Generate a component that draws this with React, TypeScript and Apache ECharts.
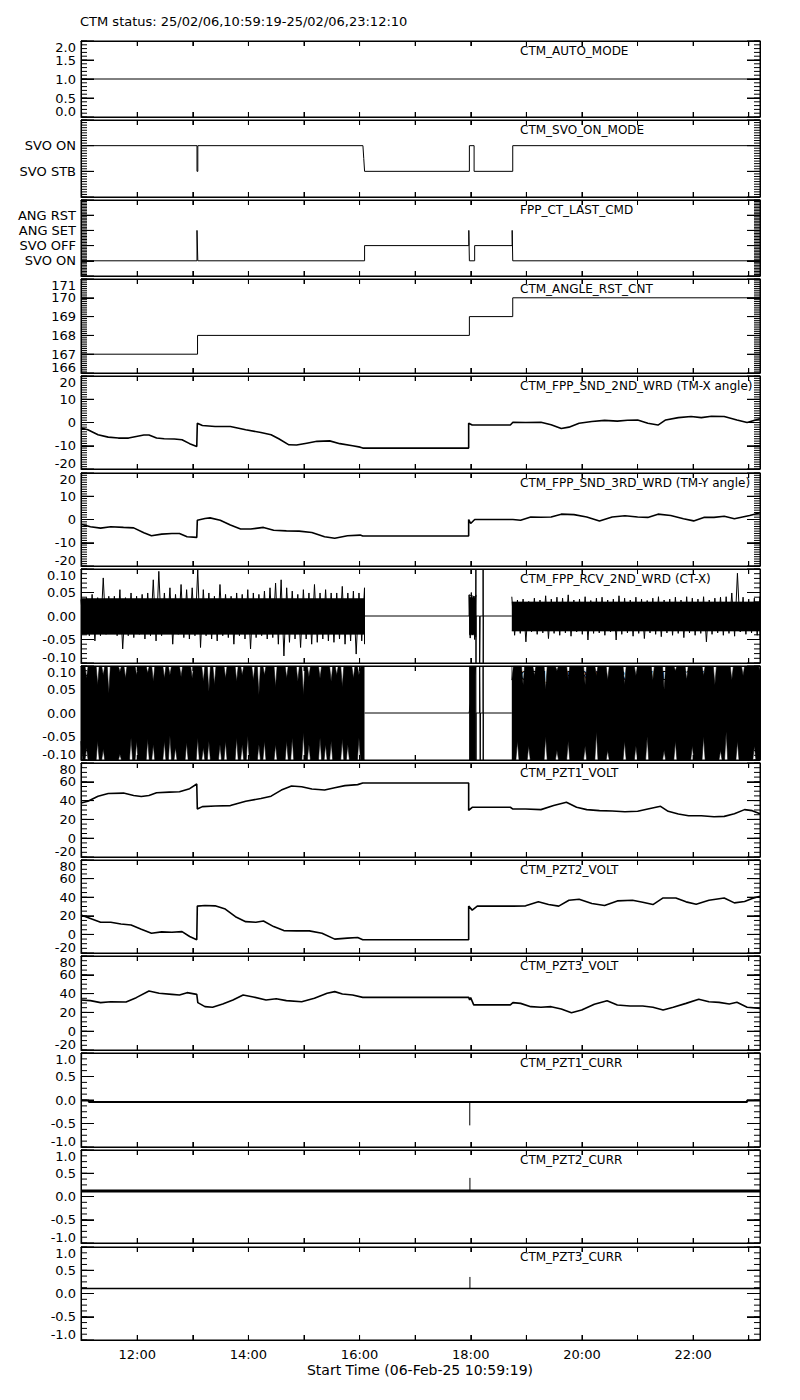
import React, { useEffect, useRef } from 'react';
import * as echarts from 'echarts';

const FONT = '"DejaVu Sans", "Liberation Sans", sans-serif';

// ---- time axis (hours of day) ----
const T_START = 10.9886; // 10:59:19
const T_END = 23.2028; // 23:12:10
const HOUR_TICKS = [11, 12, 13, 14, 15, 16, 17, 18, 19, 20, 21, 22, 23];
const HOUR_LABELS = [12, 14, 16, 18, 20, 22];
const MAIN_TITLE = 'CTM status: 25/02/06,10:59:19-25/02/06,23:12:10';
const X_TITLE = 'Start Time (06-Feb-25 10:59:19)';

const PANEL_NAMES = [
  'CTM_AUTO_MODE',
  'CTM_SVO_ON_MODE',
  'FPP_CT_LAST_CMD',
  'CTM_ANGLE_RST_CNT',
  'CTM_FPP_SND_2ND_WRD (TM-X angle)',
  'CTM_FPP_SND_3RD_WRD (TM-Y angle)',
  'CTM_FPP_RCV_2ND_WRD (CT-X)',
  'CTM_FPP_RCV_3RD_WRD (CT-Y)',
  'CTM_PZT1_VOLT',
  'CTM_PZT2_VOLT',
  'CTM_PZT3_VOLT',
  'CTM_PZT1_CURR',
  'CTM_PZT2_CURR',
  'CTM_PZT3_CURR',
];

// ---- tick labels of state panels ----
const SVO_MODE_LABELS = ['SVO STB', 'SVO ON']; // 0, 1
const CMD_LABELS = ['SVO ON', 'SVO OFF', 'ANG SET', 'ANG RST']; // 0..3

// ---- data ----
const AUTO_MODE = [[T_START, 1], [T_END, 1]];

const SVO_ON_MODE = [
  [T_START, 1], [13.075, 1], [13.075, 0], [13.09, 0], [13.09, 1], [16.06, 1], [16.075, 0.5], [16.09, 0],
  [17.975, 0], [17.975, 1], [18.06, 1], [18.06, 0], [18.755, 0], [18.755, 1], [T_END, 1],
];

const LAST_CMD = [
  [T_START, 0], [13.075, 0], [13.075, 2], [13.09, 0], [16.09, 0], [16.09, 1], [17.965, 1], [17.965, 2],
  [17.975, 0], [18.07, 0], [18.07, 1], [18.745, 1], [18.745, 2], [18.755, 0], [T_END, 0],
];

const ANGLE_RST_CNT = [
  [T_START, 167], [13.085, 167], [13.085, 168], [17.975, 168], [17.975, 169], [18.755, 169], [18.755, 170], [T_END, 170],
];

const SND_2ND = [
  [T_START, -2.4], [11.112, -3.1], [11.295, -5.3], [11.478, -6.3], [11.661, -6.7], [11.844, -6.7], [11.982, -6],
  [12.119, -5.4], [12.211, -5.4], [12.348, -6.7], [12.485, -7], [12.668, -7.1], [12.806, -7.4], [12.943, -9.1],
  [13.071, -10.3], [13.081, -0.3], [13.172, -1.3], [13.401, -1.7], [13.676, -1.7], [13.951, -3.1], [14.225, -4.3],
  [14.408, -5.3], [14.546, -7], [14.729, -9.6], [14.866, -9.7], [15.049, -8.9], [15.233, -8.1], [15.462, -7.9],
  [15.645, -9.1], [15.874, -10], [16.011, -10.6], [16.057, -11], [17.962, -11], [17.962, -0.3], [18.026, -1.1],
  [18.712, -1.1], [18.758, 0.1], [18.987, 0], [19.262, 0.1], [19.445, -1], [19.628, -2.6], [19.766, -2],
  [19.949, -0.3], [20.178, 0.4], [20.407, 0.9], [20.636, 0.6], [20.819, 1], [21.002, 1.1], [21.185, -0.3],
  [21.368, -1.1], [21.506, 1.1], [21.734, 2.1], [21.963, 2.6], [22.147, 2.1], [22.33, 2.7], [22.559, 2.6],
  [22.788, 1.1], [22.971, 0], [T_END, 1.6],
];

const SND_3RD = [
  [T_START, -2], [11.158, -3.1], [11.341, -3.7], [11.524, -3.1], [11.753, -3.4], [11.936, -3.6], [12.119, -5.7],
  [12.256, -7], [12.44, -6.3], [12.623, -6], [12.76, -6], [12.897, -7.4], [13.071, -7.7], [13.081, -0.3],
  [13.218, 0.4], [13.31, 0.7], [13.493, -0.3], [13.676, -2.4], [13.859, -4.1], [14.042, -4.1], [14.271, -3.4],
  [14.454, -4.6], [14.683, -4.9], [14.912, -5], [15.141, -5.6], [15.37, -7.4], [15.553, -8.1], [15.782, -7],
  [16.011, -6.7], [16.057, -7.1], [17.962, -7.1], [17.962, 0], [17.998, -1.7], [18.071, 0], [18.758, 0],
  [18.896, -0.3], [19.079, 1.1], [19.262, 1], [19.445, 1.1], [19.628, 2.3], [19.857, 2.1], [20.086, 1.1],
  [20.315, -0.6], [20.544, 1.1], [20.773, 1.6], [21.002, 1.1], [21.185, 0.9], [21.368, 2.3], [21.597, 1.7],
  [21.826, 0.3], [22.009, -0.6], [22.192, 0.9], [22.375, 0.9], [22.559, 1.4], [22.742, 0.3], [23.017, 1.7],
  [T_END, 2.9],
];

// CT-X (noisy): envelope samples, upper / lower
const RCV2_HI_1 = [0.035, 0.039, 0.046, 0.039, 0.081, 0.042, 0.042, 0.056, 0.039, 0.049, 0.042, 0.046, 0.049, 0.077,
  0.095, 0.049, 0.06, 0.046, 0.067, 0.056, 0.06, 0.099, 0.056, 0.049, 0.042, 0.067, 0.046, 0.042, 0.049, 0.046, 0.056,
  0.049, 0.046, 0.053, 0.06, 0.07, 0.077, 0.06, 0.053, 0.046, 0.056, 0.049, 0.067, 0.049, 0.056, 0.049, 0.049, 0.063,
  0.049, 0.053, 0.049, 0.06];
const RCV2_LO_1 = [-0.035, -0.042, -0.053, -0.042, -0.039, -0.035, -0.042, -0.07, -0.042, -0.046, -0.039, -0.049,
  -0.042, -0.053, -0.042, -0.035, -0.06, -0.039, -0.046, -0.049, -0.042, -0.067, -0.042, -0.049, -0.053, -0.042,
  -0.046, -0.06, -0.042, -0.049, -0.07, -0.046, -0.042, -0.049, -0.046, -0.06, -0.085, -0.056, -0.049, -0.067,
  -0.049, -0.06, -0.056, -0.049, -0.053, -0.056, -0.049, -0.06, -0.053, -0.081, -0.053, -0.06];
const RCV2_HI_B = [0.045, 0.05, 0.04, 0.045];
const RCV2_LO_B = [-0.047, -0.04, -0.05, -0.045];
const RCV2_HI_3 = [0.041, 0.034, 0.036, 0.031, 0.038, 0.034, 0.043, 0.036, 0.04, 0.038, 0.045, 0.034, 0.036, 0.041,
  0.033, 0.038, 0.04, 0.034, 0.036, 0.043, 0.038, 0.034, 0.04, 0.036, 0.033, 0.038, 0.041, 0.034, 0.036, 0.04, 0.034,
  0.041, 0.038, 0.036, 0.041, 0.034, 0.038, 0.04, 0.041, 0.049, 0.091, 0.04, 0.036, 0.038, 0.041];
const RCV2_LO_3 = [-0.041, -0.037, -0.055, -0.034, -0.039, -0.036, -0.048, -0.037, -0.041, -0.036, -0.043, -0.034,
  -0.039, -0.051, -0.037, -0.036, -0.041, -0.034, -0.051, -0.039, -0.036, -0.043, -0.037, -0.048, -0.036, -0.039,
  -0.044, -0.036, -0.041, -0.037, -0.046, -0.036, -0.041, -0.037, -0.055, -0.039, -0.036, -0.041, -0.037, -0.043,
  -0.034, -0.039, -0.036, -0.041, -0.051];
const RCV2_CORE = [[0.037, -0.039], [0.04, -0.04], [0.03, -0.032]];
const RCV2_QUIET = [
  [16.0886, 0], [17.97, 0], [17.97, 0.045], [18.09, 0.04], [18.092, 0.1], [18.094, -0.1], [18.096, 0], [18.16, 0],
  [18.16, -0.1], [18.168, -0.1], [18.168, 0], [18.222, 0], [18.222, 0.1], [18.224, -0.1], [18.226, 0], [18.738, 0],
];

// CT-Y (noisy, saturating)
const RCV3_HI_1 = [0.1, 0.074, 0.1, 0.06, 0.081, 0.042, 0.1, 0.088, 0.074, 0.1, 0.081, 0.1, 0.085, 0.067, 0.1, 0.074,
  0.081, 0.1, 0.077, 0.1, 0.074, 0.1, 0.067, 0.046, 0.06, 0.1, 0.074, 0.1, 0.067, 0.081, 0.1, 0.07, 0.039, 0.081, 0.1,
  0.056, 0.1, 0.074, 0.1, 0.067, 0.039, 0.077, 0.1, 0.074, 0.1, 0.067, 0.081, 0.056, 0.1, 0.074, 0.081, 0.1];
const RCV3_LO_1 = [-0.06, -0.074, -0.1, -0.06, -0.077, -0.1, -0.1, -0.088, -0.1, -0.053, -0.06, -0.1, -0.056, -0.067,
  -0.1, -0.06, -0.049, -0.074, -0.1, -0.063, -0.1, -0.053, -0.074, -0.06, -0.1, -0.067, -0.06, -0.1, -0.053, -0.067,
  -0.049, -0.1, -0.067, -0.06, -0.1, -0.067, -0.1, -0.06, -0.053, -0.1, -0.042, -0.067, -0.1, -0.053, -0.067, -0.06,
  -0.1, -0.056, -0.067, -0.1, -0.053, -0.1];
const RCV3_HI_B = [0.1, 0.1, 0.1, 0.1];
const RCV3_LO_B = [-0.1, -0.1, -0.1, -0.1];
const RCV3_HI_3 = [0.07, 0.1, 0.06, 0.1, 0.08, 0.1, 0.05, 0.1, 0.09, 0.1, 0.07, 0.1, 0.1, 0.06, 0.1, 0.08, 0.1, 0.07,
  0.1, 0.1, 0.06, 0.1, 0.08, 0.1, 0.1, 0.07, 0.1, 0.05, 0.1, 0.09, 0.1, 0.07, 0.1, 0.1, 0.08, 0.1, 0.06, 0.1, 0.1, 0.07,
  0.1, 0.08, 0.1, 0.1, 0.09];
const RCV3_LO_3 = [-0.1, -0.06, -0.1, -0.07, -0.1, -0.1, -0.05, -0.1, -0.08, -0.1, -0.06, -0.1, -0.1, -0.07, -0.1,
  -0.04, -0.1, -0.08, -0.1, -0.1, -0.06, -0.1, -0.07, -0.1, -0.05, -0.1, -0.1, -0.08, -0.1, -0.06, -0.1, -0.1, -0.07,
  -0.1, -0.05, -0.1, -0.1, -0.08, -0.04, -0.1, -0.06, -0.1, -0.1, -0.07, -0.1];
const RCV3_QUIET = [
  [16.0886, 0], [17.97, 0], [18.092, 0.1], [18.094, -0.1], [18.096, 0], [18.16, 0], [18.16, 0.1], [18.165, 0.1],
  [18.17, -0.1], [18.175, 0], [18.222, 0], [18.222, 0.1], [18.224, -0.1], [18.226, 0], [18.738, 0],
];

const PZT1_VOLT = [
  [T_START, 37.5], [11.112, 39.4], [11.295, 44.7], [11.478, 47.6], [11.753, 48], [11.936, 45.5], [12.073, 44.4],
  [12.211, 45.5], [12.348, 48.3], [12.577, 49], [12.76, 49.4], [12.943, 52.7], [13.071, 57.7], [13.081, 31],
  [13.172, 33.6], [13.401, 34.3], [13.676, 34.7], [13.951, 39.4], [14.225, 42.2], [14.408, 44.7], [14.592, 51.2],
  [14.775, 55.5], [14.958, 54.8], [15.141, 52.3], [15.37, 51.2], [15.553, 53.7], [15.736, 55.9], [15.965, 57],
  [16.057, 58.8], [17.962, 58.8], [17.962, 29.6], [18.026, 32.9], [18.712, 32.9], [18.758, 31], [18.987, 31],
  [19.262, 30.4], [19.491, 34.7], [19.72, 38.3], [19.903, 32.9], [20.086, 30.4], [20.315, 29.3], [20.544, 28.9],
  [20.773, 28.2], [21.002, 28.6], [21.185, 31], [21.414, 33.9], [21.551, 28.6], [21.734, 25.7], [21.918, 23.9],
  [22.147, 23.9], [22.375, 22.8], [22.559, 23.2], [22.742, 26], [22.925, 30.4], [23.063, 29.3], [T_END, 26],
];

const PZT2_VOLT = [
  [T_START, 20.8], [11.158, 17.2], [11.341, 13], [11.524, 13], [11.707, 11.2], [11.89, 10.1], [12.073, 5.5],
  [12.256, 1.3], [12.44, 2.7], [12.623, 2.3], [12.806, 3], [12.943, -2.3], [13.071, -5.8], [13.081, 30.4],
  [13.218, 31.1], [13.401, 30.7], [13.584, 27.2], [13.767, 19], [13.951, 13.7], [14.134, 13], [14.271, 14.4],
  [14.454, 8.4], [14.637, 4.1], [14.866, 3.8], [15.095, 3.8], [15.324, 1.3], [15.553, -5.1], [15.782, -4],
  [15.965, -3.3], [16.057, -5.8], [17.962, -5.8], [17.962, 30.4], [18.026, 26.1], [18.117, 30.4], [18.758, 30.4],
  [18.987, 30.7], [19.216, 35], [19.399, 32.1], [19.582, 30.4], [19.766, 36.7], [19.949, 37.8], [20.178, 33.2],
  [20.407, 31.1], [20.636, 36], [20.91, 36.7], [21.093, 34.6], [21.277, 32.1], [21.46, 39.2], [21.689, 39.2],
  [21.872, 35], [22.055, 32.5], [22.284, 36.7], [22.559, 39.2], [22.742, 33.9], [22.925, 35.3], [23.063, 38.5],
  [T_END, 41],
];

const PZT3_VOLT = [
  [T_START, 33.2], [11.158, 32.5], [11.341, 30.4], [11.524, 31.4], [11.799, 31.1], [11.982, 35.7], [12.211, 42.8],
  [12.394, 40.3], [12.623, 39.2], [12.76, 38.5], [12.897, 41], [13.071, 39.2], [13.09, 30.4], [13.218, 26.1],
  [13.355, 25.4], [13.538, 28.9], [13.722, 33.2], [13.905, 38.5], [14.088, 36.4], [14.317, 33.2], [14.5, 34.6],
  [14.683, 32.5], [14.958, 31.4], [15.187, 35], [15.416, 40.3], [15.553, 42.1], [15.691, 39.6], [15.874, 38.5],
  [16.057, 36], [17.962, 36], [17.98, 33.2], [17.998, 35.7], [18.053, 28], [18.712, 28], [18.758, 30.4],
  [18.896, 29.6], [19.079, 26.1], [19.262, 25.4], [19.445, 26.1], [19.628, 23.6], [19.811, 19.7], [19.995, 22.5],
  [20.223, 28.6], [20.452, 32.5], [20.636, 27.9], [20.864, 26.8], [21.093, 26.8], [21.277, 25.4], [21.46, 22.5],
  [21.643, 25.4], [21.872, 29.6], [22.101, 33.9], [22.284, 31.4], [22.467, 30.7], [22.65, 28.9], [22.788, 30.7],
  [22.971, 25.4], [T_END, 24.3],
];

const PZT1_CURR = [
  [T_START, -0.01], [11.13, -0.01], [11.13, -0.04], [22.97, -0.04], [22.97, -0.01], [T_END, -0.01],
];
const PZT1_CURR_SPIKE = [[17.982, -0.04], [17.982, -0.54]];
const PZT2_CURR = [[T_START, 0.12], [T_END, 0.12]];
const PZT2_CURR_SPIKE = [[17.985, 0.12], [17.985, 0.4]];
const PZT3_CURR = [[T_START, 0.107], [T_END, 0.107]];
const PZT3_CURR_SPIKE = [[17.985, 0.107], [17.985, 0.356]];

// ---- layout ----
const GRID_LEFT = 81;
const GRID_RIGHT = 40;
const TOPS = [41, 120, 200, 279, 376, 473, 569, 666, 763, 860, 956, 1053, 1150, 1247];
const HEIGHTS = [76, 77, 76, 94, 93, 93, 94, 94, 94, 93, 94, 94, 93, 93];
const EDGE_LABEL_SHIFT = 6;
const MAJOR_LEN = 13;
const MINOR_LEN = 6;
const X_TICK_LEN = 5;

type Fmt = (v: number) => string;
const f1: Fmt = (v) => v.toFixed(1);
const f2: Fmt = (v) => v.toFixed(2);
const fi: Fmt = (v) => String(Math.round(v));

const AXES = [
  { min: 0, max: 2, interval: 0.5, minor: 0.1, fmt: f1 },
  { min: -1, max: 2, interval: 1, minor: 0.1, fmt: (v: number) => SVO_MODE_LABELS[Math.round(v)] ?? '' },
  { min: -1, max: 4, interval: 1, minor: 0.1, fmt: (v: number) => CMD_LABELS[Math.round(v)] ?? '' },
  { min: 166, max: 171, interval: 1, minor: 0.1, fmt: fi },
  { min: -20, max: 20, interval: 10, minor: 1, fmt: fi },
  { min: -20, max: 20, interval: 10, minor: 1, fmt: fi },
  { min: -0.1, max: 0.1, interval: 0.05, minor: 0.01, fmt: f2 },
  { min: -0.1, max: 0.1, interval: 0.05, minor: 0.01, fmt: f2 },
  { min: -20, max: 80, interval: 20, minor: 5, fmt: fi },
  { min: -20, max: 80, interval: 20, minor: 5, fmt: fi },
  { min: -20, max: 80, interval: 20, minor: 5, fmt: fi },
  { min: -1, max: 1, interval: 0.5, minor: 0.125, fmt: f1 },
  { min: -1, max: 1, interval: 0.5, minor: 0.125, fmt: f1 },
  { min: -1, max: 1, interval: 0.5, minor: 0.125, fmt: f1 },
];

type Seg = { start: number; end: number; hi: number[]; lo: number[] };

function segTimes(s: Seg) {
  const n = s.hi.length;
  const step = (s.end - s.start) / (n - 1);
  return { step, t: s.hi.map((_, i) => s.start + i * step) };
}

function zigzag(s: Seg) {
  const { step, t } = segTimes(s);
  const pts: number[][] = [];
  t.forEach((tt, i) => {
    pts.push([tt, s.hi[i]]);
    pts.push([Math.min(tt + step / 2, s.end), s.lo[i]]);
  });
  return pts;
}

// envelope drawn as a saturated band with narrow dips where the peak did not reach the limit
function notched(s: Seg, vals: number[], limit: number) {
  const { step, t } = segTimes(s);
  const w = step * 0.28;
  const pts: number[][] = [];
  t.forEach((tt, i) => {
    const v = vals[i];
    if (Math.abs(v - limit) < 1e-9) {
      pts.push([tt, v]);
    } else {
      pts.push([Math.max(tt - w, s.start), limit]);
      pts.push([tt, v]);
      pts.push([Math.min(tt + w, s.end), limit]);
    }
  });
  return pts;
}

// tick positions of an axis (decoration only): min, min+step, ... max
function tickValues(min: number, max: number, step: number) {
  const count = Math.round((max - min) / step);
  const out: number[] = [];
  for (let k = 0; k <= count; k++) out.push(+(min + k * step).toFixed(6));
  return out;
}

function buildOption() {
  const n = PANEL_NAMES.length;
  const grid: any[] = [];
  const xAxis: any[] = [];
  const yAxis: any[] = [];
  const graphic: any[] = [];
  const textStyle = { fontSize: 13, fontFamily: FONT, color: '#000' };
  const black = { color: '#000', width: 1 };
  const textEl = (text: string, x: number, y: number, size: number, align: string) => ({
    type: 'text', x, y, z: 0, silent: true,
    style: {
      text, fill: '#000', font: `${size}px ${FONT}`,
      align, verticalAlign: 'middle', textAlign: align, textVerticalAlign: 'middle',
    },
  });

  for (let i = 0; i < n; i++) {
    grid.push({
      left: GRID_LEFT, right: GRID_RIGHT, top: TOPS[i], height: HEIGHTS[i],
      show: true, borderColor: '#000', borderWidth: 1, backgroundColor: 'transparent', z: 0,
    });
    const isLast = i === n - 1;
    for (const pos of ['bottom', 'top']) {
      xAxis.push({
        type: 'value', gridIndex: i, position: pos, min: T_START, max: T_END, z: 5,
        axisLine: { show: true, onZero: false, lineStyle: { ...black } },
        axisTick: {
          show: true, inside: false, length: -X_TICK_LEN, lineStyle: { ...black },
          customValues: HOUR_TICKS,
        },
        axisLabel: {
          show: isLast && pos === 'bottom', margin: 8, ...textStyle,
          customValues: HOUR_LABELS,
          formatter: (v: number) => `${String(Math.round(v)).padStart(2, '0')}:00`,
        },
        splitLine: { show: false },
      });
    }
    const ax = AXES[i];
    for (const pos of ['left', 'right']) {
      yAxis.push({
        type: 'value', gridIndex: i, position: pos, min: ax.min, max: ax.max, interval: ax.interval, z: 5,
        axisLine: { show: true, onZero: false, lineStyle: { ...black } },
        axisTick: { show: true, inside: false, length: -MAJOR_LEN, lineStyle: { ...black } },
        axisLabel: {
          show: pos === 'left', margin: 5, formatter: ax.fmt, ...textStyle,
          showMinLabel: false, showMaxLabel: false,
        },
        splitLine: { show: false },
      });
    }
    // edge labels (min / max) sit just inside the frame, as in the original plot
    const top = TOPS[i];
    const bottom = TOPS[i] + HEIGHTS[i];
    const maxText = ax.fmt(ax.max);
    const minText = ax.fmt(ax.min);
    if (maxText) graphic.push(textEl(maxText, GRID_LEFT - 5, top + EDGE_LABEL_SHIFT, 13, 'right'));
    if (minText) graphic.push(textEl(minText, GRID_LEFT - 5, bottom - EDGE_LABEL_SHIFT, 13, 'right'));
    graphic.push(textEl(PANEL_NAMES[i], 520, top + 10, 12, 'left'));
  }

  graphic.push(textEl(MAIN_TITLE, 80, 21, 13, 'left'));
  graphic.push(textEl(X_TITLE, 420, 1370, 14, 'center'));

  const lineSeries = (gi: number, data: number[][], width = 1, extra: any = {}) => ({
    type: 'line',
    xAxisIndex: gi * 2,
    yAxisIndex: gi * 2,
    data,
    symbol: 'none',
    showSymbol: false,
    silent: true,
    animation: false,
    lineStyle: { color: '#000', width },
    ...extra,
  });
  const areaSeries = (gi: number, data: number[][]) =>
    lineSeries(gi, data, 0.6, { areaStyle: { color: '#000', opacity: 1 } });

  const series: any[] = [];

  // tick marks drawn through the axes' own scales (left/right y ticks, top/bottom x ticks)
  for (let i = 0; i < n; i++) {
    const ax = AXES[i];
    const majors = tickValues(ax.min, ax.max, ax.interval);
    const minors = tickValues(ax.min, ax.max, ax.minor);
    const yTicks = [
      ...minors.map((v) => [T_START, v, MINOR_LEN]),
      ...majors.map((v) => [T_START, v, MAJOR_LEN]),
    ];
    series.push({
      type: 'custom', xAxisIndex: i * 2, yAxisIndex: i * 2, silent: true, clip: false, z: 4,
      data: yTicks,
      renderItem: (_p: any, api: any) => {
        const v = api.value(1);
        const len = api.value(2);
        const l = api.coord([T_START, v]);
        const r = api.coord([T_END, v]);
        const st = { stroke: '#000', lineWidth: 1 };
        return {
          type: 'group',
          children: [
            { type: 'line', shape: { x1: l[0], y1: l[1], x2: l[0] + len, y2: l[1] }, style: st },
            { type: 'line', shape: { x1: r[0] - len, y1: r[1], x2: r[0], y2: r[1] }, style: st },
          ],
        };
      },
    });
    series.push({
      type: 'custom', xAxisIndex: i * 2, yAxisIndex: i * 2, silent: true, clip: false, z: 4,
      data: HOUR_TICKS.map((h) => [h, ax.min]),
      renderItem: (_p: any, api: any) => {
        const h = api.value(0);
        const b = api.coord([h, ax.min]);
        const t = api.coord([h, ax.max]);
        const st = { stroke: '#000', lineWidth: 1 };
        return {
          type: 'group',
          children: [
            { type: 'line', shape: { x1: b[0], y1: b[1], x2: b[0], y2: b[1] - X_TICK_LEN }, style: st },
            { type: 'line', shape: { x1: t[0], y1: t[1], x2: t[0], y2: t[1] + X_TICK_LEN }, style: st },
          ],
        };
      },
    });
  }

  series.push(lineSeries(0, AUTO_MODE));
  series.push(lineSeries(1, SVO_ON_MODE));
  series.push(lineSeries(2, LAST_CMD));
  series.push(lineSeries(3, ANGLE_RST_CNT));
  series.push(lineSeries(4, SND_2ND, 1.6));
  series.push(lineSeries(5, SND_3RD, 1.6));

  // CT-X
  const rcv2Segs: Seg[] = [
    { start: T_START, end: 16.0886, hi: RCV2_HI_1, lo: RCV2_LO_1 },
    { start: 17.97, end: 18.09, hi: RCV2_HI_B, lo: RCV2_LO_B },
    { start: 18.738, end: T_END, hi: RCV2_HI_3, lo: RCV2_LO_3 },
  ];
  rcv2Segs.forEach((s, k) => {
    series.push(areaSeries(6, [[s.start, RCV2_CORE[k][0]], [s.end, RCV2_CORE[k][0]]]));
    series.push(areaSeries(6, [[s.start, RCV2_CORE[k][1]], [s.end, RCV2_CORE[k][1]]]));
    series.push(lineSeries(6, zigzag(s), 1));
  });
  series.push(lineSeries(6, RCV2_QUIET, 1));

  // CT-Y
  const rcv3Segs: Seg[] = [
    { start: T_START, end: 16.0886, hi: RCV3_HI_1, lo: RCV3_LO_1 },
    { start: 17.97, end: 18.09, hi: RCV3_HI_B, lo: RCV3_LO_B },
    { start: 18.738, end: T_END, hi: RCV3_HI_3, lo: RCV3_LO_3 },
  ];
  rcv3Segs.forEach((s) => {
    series.push(areaSeries(7, notched(s, s.hi, 0.1)));
    series.push(areaSeries(7, notched(s, s.lo, -0.1)));
  });
  series.push(lineSeries(7, RCV3_QUIET, 1));

  series.push(lineSeries(8, PZT1_VOLT, 1.6));
  series.push(lineSeries(9, PZT2_VOLT, 1.6));
  series.push(lineSeries(10, PZT3_VOLT, 1.6));
  series.push(lineSeries(11, PZT1_CURR, 2));
  series.push(lineSeries(11, PZT1_CURR_SPIKE, 1));
  series.push(lineSeries(12, PZT2_CURR, 3));
  series.push(lineSeries(12, PZT2_CURR_SPIKE, 1));
  series.push(lineSeries(13, PZT3_CURR, 1.6));
  series.push(lineSeries(13, PZT3_CURR_SPIKE, 1));

  return {
    animation: false,
    backgroundColor: '#fff',
    grid,
    xAxis,
    yAxis,
    graphic,
    series,
  };
}

export default function App() {
  const ref = useRef<HTMLDivElement>(null);
  useEffect(() => {
    document.body.style.margin = '0';
    const chart = echarts.init(ref.current as HTMLDivElement, null, { renderer: 'svg', width: 800, height: 1400 });
    chart.setOption(buildOption() as any);
    return () => chart.dispose();
  }, []);
  return (
    <div
      ref={ref}
      style={{ position: 'absolute', left: 0, top: 0, width: 800, height: 1400, background: '#fff' }}
    />
  );
}
